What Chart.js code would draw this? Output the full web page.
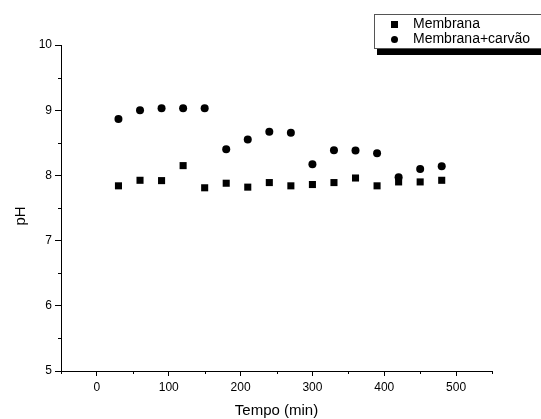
<!DOCTYPE html>
<html>
<head>
<meta charset="utf-8">
<script src="https://cdn.jsdelivr.net/npm/chart.js@4"></script>
<style>
html,body{margin:0;padding:0;background:#fff;}
#wrap{position:relative;width:541px;height:419px;}
</style>
</head>
<body>
<div id="wrap"><canvas id="c" width="541" height="419"></canvas></div>
<script>
const times = [30,60,90,120,150,180,210,240,270,300,330,360,390,420,450,480];
const membrana = [7.84,7.925,7.92,8.15,7.81,7.88,7.82,7.89,7.84,7.86,7.89,7.96,7.84,7.90,7.90,7.925];
const membranaCarvao = [8.865,9.00,9.03,9.03,9.03,8.40,8.55,8.67,8.655,8.17,8.385,8.38,8.34,7.97,8.10,8.14];
const seriesNames = ['Membrana','Membrana+carvão'];
const xTicks = [0,100,200,300,400,500];
const xMinorTicks = [-50,50,150,250,350,450,550];
const yTicks = [5,6,7,8,9,10];
const yMinorTicks = [5.5,6.5,7.5,8.5,9.5];
const xTitle = 'Tempo (min)';
const yTitle = 'pH';

const FONT = "'Liberation Sans', Arial, sans-serif";

const minorTicksPlugin = {
  id: 'minorTicks',
  afterDraw(chart) {
    const ctx = chart.ctx;
    const xs = chart.scales.x, ys = chart.scales.y;
    ctx.save();
    ctx.strokeStyle = '#000';
    ctx.lineWidth = 1;
    ctx.beginPath();
    xMinorTicks.forEach(v => {
      const px = Math.round(xs.getPixelForValue(v)) + 0.5;
      ctx.moveTo(px, xs.top);
      ctx.lineTo(px, xs.top + 3);
    });
    yMinorTicks.forEach(v => {
      const py = Math.round(ys.getPixelForValue(v)) + 0.5;
      ctx.moveTo(ys.right, py);
      ctx.lineTo(ys.right - 3, py);
    });
    ctx.stroke();
    // y axis title
    ctx.fillStyle = '#000';
    ctx.font = '15px ' + FONT;
    ctx.textAlign = 'center';
    ctx.textBaseline = 'middle';
    ctx.translate(21, 216);
    ctx.rotate(-Math.PI / 2);
    ctx.fillText(yTitle, 0, 0);
    ctx.restore();
  }
};

const legendPlugin = {
  id: 'boxLegend',
  afterDraw(chart) {
    const ctx = chart.ctx;
    ctx.save();
    // shadow
    ctx.fillStyle = '#000';
    ctx.fillRect(377, 48, 541 - 377, 7);
    // box
    ctx.fillStyle = '#fff';
    ctx.fillRect(374, 14, 200, 34);
    ctx.strokeStyle = '#555';
    ctx.lineWidth = 1;
    ctx.strokeRect(374.5, 14.5, 200, 34);
    // markers
    ctx.fillStyle = '#000';
    ctx.fillRect(391, 21, 7, 7);
    ctx.beginPath();
    ctx.arc(394.5, 39.5, 3.5, 0, Math.PI * 2);
    ctx.fill();
    // text
    ctx.font = '14px ' + FONT;
    ctx.textBaseline = 'middle';
    ctx.textAlign = 'left';
    ctx.fillText(chart.data.datasets[0].label, 413, 24.5);
    ctx.fillText(chart.data.datasets[1].label, 413, 39.5);
    ctx.restore();
  }
};

new Chart(document.getElementById('c'), {
  type: 'scatter',
  data: {
    datasets: [
      {
        label: seriesNames[0],
        data: times.map((t, i) => ({x: t, y: membrana[i]})),
        pointStyle: 'rect',
        pointRadius: 5,
        pointBorderWidth: 0,
        backgroundColor: '#000',
        borderColor: '#000'
      },
      {
        label: seriesNames[1],
        data: times.map((t, i) => ({x: t, y: membranaCarvao[i]})),
        pointStyle: 'circle',
        pointRadius: 4,
        pointBorderWidth: 0,
        backgroundColor: '#000',
        borderColor: '#000'
      }
    ]
  },
  options: {
    responsive: false,
    animation: false,
    layout: { padding: { left: 0, right: 49, top: 45, bottom: 0 } },
    plugins: { legend: { display: false }, tooltip: { enabled: false } },
    scales: {
      x: {
        type: 'linear',
        min: -50,
        max: 550,
        afterBuildTicks(scale) { scale.ticks = xTicks.map(v => ({value: v})); },
        afterFit(scale) { scale.height = 48; },
        grid: { drawOnChartArea: false, tickLength: 5, color: '#000' },
        border: { display: true, color: '#000', width: 1 },
        ticks: { color: '#000', font: { family: FONT, size: 12 }, padding: 4, maxRotation: 0, autoSkip: false },
        title: { display: true, text: xTitle, color: '#000', font: { family: FONT, size: 15 }, padding: { top: 0, bottom: -1 } }
      },
      y: {
        type: 'linear',
        min: 5,
        max: 10,
        afterBuildTicks(scale) { scale.ticks = yTicks.map(v => ({value: v})); },
        afterFit(scale) { scale.width = 61; },
        grid: { drawOnChartArea: false, tickLength: 6, color: '#000' },
        border: { display: true, color: '#000', width: 1 },
        ticks: { color: '#000', font: { family: FONT, size: 12 }, padding: 3, autoSkip: false },
        title: { display: false }
      }
    }
  },
  plugins: [minorTicksPlugin, legendPlugin]
});
</script>
</body>
</html>
